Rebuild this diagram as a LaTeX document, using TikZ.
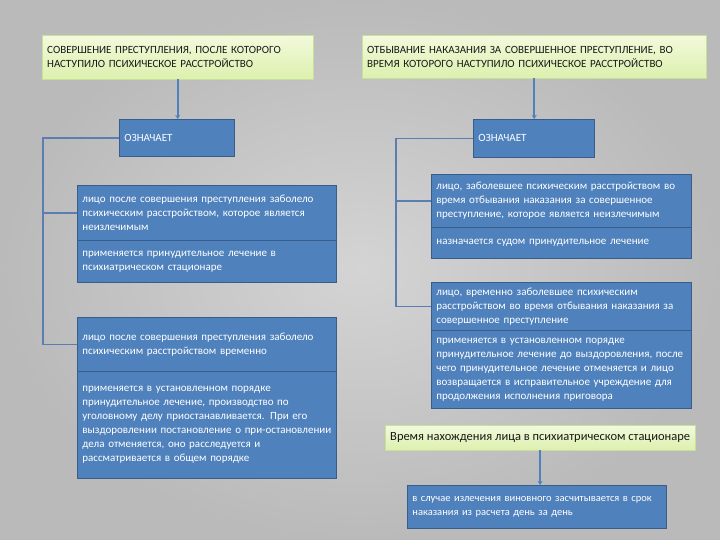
\documentclass[tikz,border=0pt]{standalone}
\usepackage{fontspec}
\setmainfont{Carlito}
\usetikzlibrary{arrows.meta}
\definecolor{boxblue}{HTML}{4F81BD}
\definecolor{boxedge}{HTML}{385D8A}
\definecolor{headtop}{HTML}{F2FADC}
\definecolor{headbot}{HTML}{DDF0AE}
\definecolor{headedge}{HTML}{C9E09A}
\definecolor{railblue}{HTML}{5B7DB1}
\definecolor{backin}{HTML}{D4D4D4}
\definecolor{backout}{HTML}{BABABA}

\begin{document}
\begin{tikzpicture}[x=1pt,y=-1pt,
    every node/.style={font=\fontsize{11}{14}\selectfont, anchor=north west, inner xsep=5pt, inner ysep=0pt, align=left},
    head/.style 2 args={draw=headedge, top color=headtop, bottom color=headbot, text=black!90,
      minimum width=#1, text width=#1-10pt, minimum height=#2},
    bluebox/.style 2 args={draw=boxedge, line width=0.8pt, fill=boxblue, text=white,
      minimum width=#1, text width=#1-10pt, minimum height=#2},
    link/.style={draw=boxblue, line width=2.2pt, -{Stealth[length=4pt,width=5pt]}},
    rail/.style={draw=railblue, line width=1.3pt}]
    \shade [inner color=backin, outer color=backout] (0,0) rectangle (720,540);
    % left column
    \node [head={271pt}{44pt}] (crime) at (42,35) {СОВЕРШЕНИЕ ПРЕСТУПЛЕНИЯ, ПОСЛЕ КОТОРОГО\\НАСТУПИЛО ПСИХИЧЕСКОЕ РАССТРОЙСТВО};
    \node [bluebox={115pt}{37pt}] (meansL) at (119,119) {ОЗНАЧАЕТ};
    \node [bluebox={259pt}{55pt}] (incurL) at (77,185) {лицо после совершения преступления заболело\\психическим расстройством, которое является\\неизлечимым};
    \node [bluebox={259pt}{42pt}] (incurLcure) at (77,240) {применяется принудительное лечение в\\психиатрическом стационаре};
    \node [bluebox={259pt}{54pt}] (tempL) at (77,317) {лицо после совершения преступления заболело\\психическим расстройством временно};
    \node [bluebox={259pt}{107pt}] (tempLcure) at (77,371) {применяется в установленном порядке\\принудительное лечение, производство по\\уголовному делу приостанавливается. При его\\выздоровлении постановление о при-остановлении\\дела отменяется, оно расследуется и\\рассматривается в общем порядке};
    % right column
    \node [head={344pt}{43pt}] (serve) at (362,35) {ОТБЫВАНИЕ НАКАЗАНИЯ ЗА СОВЕРШЕННОЕ ПРЕСТУПЛЕНИЕ, ВО\\ВРЕМЯ КОТОРОГО НАСТУПИЛО ПСИХИЧЕСКОЕ РАССТРОЙСТВО};
    \node [bluebox={121pt}{38pt}] (meansR) at (473,119) {ОЗНАЧАЕТ};
    \node [bluebox={260pt}{53pt}] (incurR) at (431,174) {лицо, заболевшее психическим расстройством во\\время отбывания наказания за совершенное\\преступление, которое является неизлечимым};
    \node [bluebox={260pt}{31pt}] (incurRcure) at (431,227) {назначается судом принудительное лечение};
    \node [bluebox={260pt}{48pt}] (tempR) at (431,282) {лицо, временно заболевшее психическим\\расстройством во время отбывания наказания за\\совершенное преступление};
    \node [bluebox={260pt}{78pt}] (tempRcure) at (431,330) {применяется в установленном порядке\\принудительное лечение до выздоровления, после\\чего принудительное лечение отменяется и лицо\\возвращается в исправительное учреждение для\\продолжения исполнения приговора};
    \node [head={307pt}{25pt}, text width=, align=center, font=\fontsize{12.5}{14}\selectfont] (stay) at (385,425) {Время нахождения лица в психиатрическом стационаре};
    \node [bluebox={259pt}{43pt}, font=\fontsize{10.5}{14}\selectfont] (count) at (407,485) {в случае излечения виновного засчитывается в срок\\наказания из расчета день за день};
    % connectors
    \coordinate (railL) at (43,0);
    \coordinate (railR) at (396,0);
    \draw [link] (crime.south) -- (crime.south |- meansL.north);
    \draw [link] (serve.south) -- (serve.south |- meansR.north);
    \draw [link] (stay.south) -- (stay.south |- count.north);
    \draw [rail] (meansL.west) -- (meansL.west -| railL) |- (tempL.west);
    \draw [rail] (railL |- incurL.west) -- (incurL.west);
    \draw [rail] (meansR.west) -- (meansR.west -| railR) |- (tempR.west);
    \draw [rail] (railR |- incurR.west) -- (incurR.west);
\end{tikzpicture}
\end{document}
